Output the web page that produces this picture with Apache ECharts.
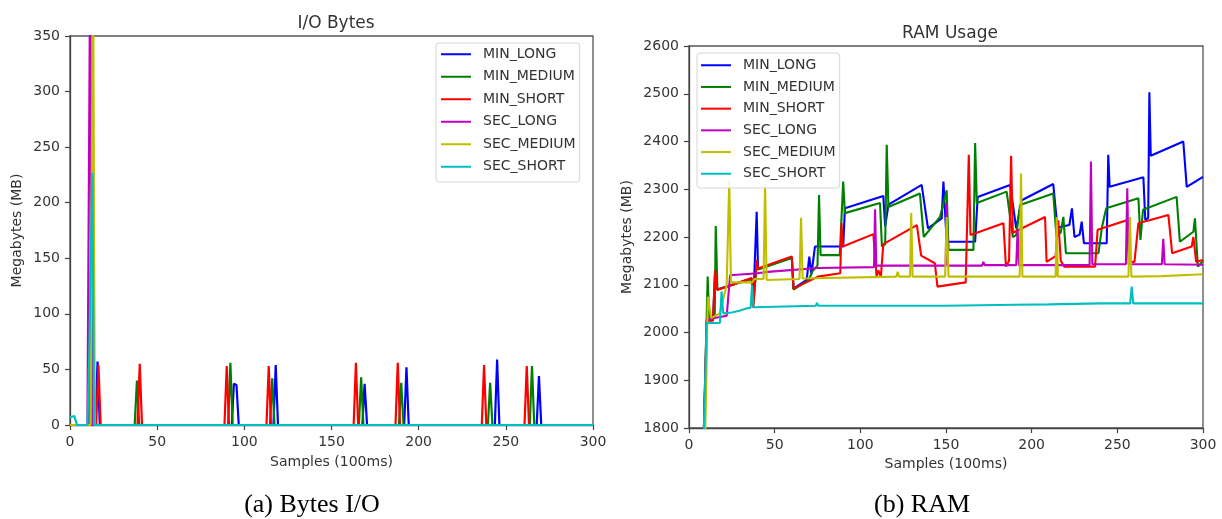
<!DOCTYPE html>
<html><head><meta charset="utf-8">
<script src="https://cdn.jsdelivr.net/npm/echarts@6/dist/echarts.min.js"></script>
<style>html,body{margin:0;padding:0;background:#fff}#c{width:1222px;height:519px}</style>
</head><body><div id="c"></div><script>
// ---- data ----
const seriesNames = ['MIN_LONG','MIN_MEDIUM','MIN_SHORT','SEC_LONG','SEC_MEDIUM','SEC_SHORT'];
const seriesColors = ['#0000ff','#008000','#ff0000','#bf00bf','#bfbf00','#00bfbf'];

// I/O Bytes: [sample, MB]
const ioMinLong = [[0,0],[14.5,0],[15.8,57],[17.1,0],[92.8,0],[94,37],[95.5,36],[96.8,0],[116.7,0],[118,54],[119.3,0],[167.7,0],[169,37],[170.4,0],[191.7,0],[193,52],[194.3,0],[243.7,0],[245,59],[246.3,0],[267.7,0],[269,44],[270.3,0],[300,0]];
const ioMinMedium = [[0,0],[10.8,0],[12.2,170],[13.3,0],[37.1,0],[38.4,40],[39.7,0],[90.7,0],[92,56],[93.3,0],[114.7,0],[116,42],[117.3,0],[165.7,0],[167,43],[168.3,0],[188.7,0],[190,38],[191.3,0],[239.7,0],[241,38],[242.3,0],[263.7,0],[265,53],[266.3,0],[300,0]];
const ioMinShort = [[0,0],[15,0],[16.3,54],[17.6,0],[38.7,0],[40,55],[41.3,0],[88.6,0],[89.9,53],[91.2,0],[112.7,0],[114,53],[115.3,0],[162.7,0],[164,56],[165.3,0],[186.7,0],[188,56],[189.3,0],[236.2,0],[237.5,54],[238.8,0],[260.7,0],[262,53],[263.3,0],[300,0]];
const ioSecLong = [[0,0],[10,0],[11.6,420],[12.8,0],[300,0]];
const ioSecMedium = [[0,0],[11.8,0],[13.2,420],[14.2,0],[300,0]];
const ioSecShort = [[0,7],[1,8],[2.5,8],[4,0],[10,0],[11,60],[12.8,227],[13.8,0],[300,0]];

// RAM Usage: [sample, MB]
const ramMinLong = [[8,1700],[10.5,2025],[14,2025],[15.2,2125],[16.5,2090],[36.6,2113],[37.5,2060],[38.5,2060],[39.5,2253],[40.3,2133],[60,2157],[61,2092],[68.7,2110],[70.2,2159],[71.5,2122],[73.5,2180],[90,2180],[91,2260],[113.4,2286],[114.5,2222],[116.4,2268],[135.8,2309],[139.5,2218],[147.5,2239],[148.5,2316],[150.4,2190],[167,2190],[168.5,2284],[187.4,2309],[191,2218],[194.2,2277],[212.6,2311],[215,2220],[222,2225],[223.5,2260],[225,2200],[228,2205],[229.2,2232],[230.5,2187],[243.8,2187],[244.7,2372],[245.5,2305],[265.2,2325],[266.3,2236],[268,2240],[268.7,2503],[269.5,2370],[288.5,2400],[290.5,2305],[300,2326]];
const ramMinMedium = [[8,1700],[10.3,2030],[10.9,2117],[11.8,2030],[15,2030],[15.6,2223],[16.6,2090],[36.6,2112],[37.5,2058],[38.5,2058],[39.5,2140],[40.3,2132],[60,2156],[61,2090],[70,2110],[72,2128],[75,2140],[75.9,2288],[76.8,2162],[88,2162],[90,2316],[91,2250],[111.5,2271],[112.6,2180],[114.5,2185],[115.4,2393],[116.4,2263],[134.8,2291],[137,2200],[146.5,2242],[150.4,2298],[151.5,2173],[166,2173],[167,2397],[168,2271],[185.4,2295],[189,2200],[191,2204],[193.2,2267],[212.6,2291],[214.5,2200],[217,2210],[218.5,2242],[220,2166],[239,2166],[241,2220],[243.5,2260],[262.3,2281],[263.5,2194],[265,2257],[284.6,2284],[286.5,2190],[294.4,2211],[295.3,2239],[297,2138],[300,2150]];
const ramMinShort = [[8,1700],[10.3,2025],[14,2025],[15.2,2130],[16.5,2089],[36.6,2114],[37.5,2052],[38.5,2052],[39.5,2152],[40.3,2134],[60,2159],[61,2092],[75.3,2117],[88.3,2124],[89,2229],[89.8,2180],[107.6,2206],[109.5,2117],[110.5,2130],[112,2117],[113.4,2185],[133,2225],[135.5,2161],[143.5,2145],[145,2096],[161.5,2105],[163.3,2372],[164.3,2204],[183.5,2229],[185,2138],[186.8,2150],[188,2370],[189,2209],[207.8,2242],[208.7,2148],[214,2160],[215.5,2235],[217,2150],[219,2138],[237,2138],[238.5,2215],[255.5,2235],[257.5,2148],[260,2148],[262.3,2229],[279.8,2246],[282,2166],[293.4,2180],[294.4,2200],[296,2148],[300,2152]];
const ramSecLong = [[8,1700],[10.5,2028],[14,2030],[22,2035],[24,2120],[40,2124],[46,2127],[75,2135],[108,2137],[108.6,2258],[109.3,2140],[149.8,2140],[150.4,2270],[151,2140],[171,2140],[171.8,2148],[172.6,2141],[191,2141],[191.8,2215],[192.6,2141],[233.8,2141],[234.6,2358],[235.4,2143],[255,2143],[255.8,2302],[256.6,2143],[276,2143],[276.8,2196],[277.6,2143],[300,2142]];
const ramSecMedium = [[9,1700],[11,2075],[13,2030],[18,2040],[22,2100],[23.5,2319],[24.5,2105],[37,2105],[38,2112],[43.5,2112],[44.4,2310],[45.3,2110],[64.5,2112],[65.4,2240],[66.3,2113],[121,2117],[121.8,2127],[122.6,2117],[129,2117],[129.7,2250],[130.5,2117],[149.5,2117],[150.4,2242],[151.5,2117],[193,2117],[193.8,2333],[194.6,2117],[214,2117],[214.6,2242],[215.3,2117],[256.5,2117],[257.4,2242],[258.2,2117],[276,2118],[277,2122],[300,2122]];
const ramSecShort = [[8,1700],[10.3,2020],[18,2020],[19,2086],[20,2040],[25,2042],[30,2046],[33,2050],[36,2052],[36.8,2100],[37.6,2053],[50,2054],[74,2056],[74.7,2062],[75.5,2056],[150,2056],[190,2058],[210,2059],[240,2061],[257.5,2061],[258.4,2096],[259.3,2061],[300,2061]];

const ioData = [ioMinLong, ioMinMedium, ioMinShort, ioSecLong, ioSecMedium, ioSecShort];
const ramData = [ramMinLong, ramMinMedium, ramMinShort, ramSecLong, ramSecMedium, ramSecShort];

// ---- chart ----
const FONT = 'DejaVu Sans';
const chart = echarts.init(document.getElementById('c'));
const axisCommon = {
  axisLine: {show: true, onZero: false, lineStyle: {color: '#444', width: 1.3}},
  axisTick: {show: true, inside: false, length: 5, lineStyle: {color: '#444', width: 1.2}},
  axisLabel: {color: '#333', fontFamily: FONT, fontSize: 14, margin: 10, formatter: v => String(v)},
  splitLine: {show: false},
  nameTextStyle: {color: '#333', fontFamily: FONT, fontSize: 14}
};
function xAx(idx, gap) {
  return Object.assign({}, axisCommon, {type: 'value', gridIndex: idx, min: 0, max: 300, interval: 50,
    name: 'Samples (100ms)', nameLocation: 'middle', nameGap: gap});
}
function yAx(idx, min, max, interval, gap) {
  return Object.assign({}, axisCommon, {type: 'value', gridIndex: idx, min: min, max: max, interval: interval,
    name: 'Megabytes (MB)', nameLocation: 'middle', nameGap: gap});
}
const series = [];
seriesNames.forEach((n, i) => {
  series.push({name: n, type: 'line', xAxisIndex: 0, yAxisIndex: 0, data: ioData[i], showSymbol: false, symbol: 'none',
    lineStyle: {color: seriesColors[i], width: 2.2}, itemStyle: {color: seriesColors[i]}, clip: true, animation: false});
});
seriesNames.forEach((n, i) => {
  series.push({name: n, type: 'line', xAxisIndex: 1, yAxisIndex: 1, data: ramData[i], showSymbol: false, symbol: 'none',
    lineStyle: {color: seriesColors[i], width: 2.1}, itemStyle: {color: seriesColors[i]}, clip: true, animation: false});
});
function legend(left, top, gap, pad) {
  return {left: left, top: top, orient: 'vertical', data: seriesNames, icon: 'rect', itemWidth: 30, itemHeight: 2,
    itemGap: gap, padding: pad, backgroundColor: 'rgba(255,255,255,0.85)', borderColor: '#d6d6d6', borderWidth: 1,
    borderRadius: 3, selectedMode: false,
    textStyle: {color: '#333', fontFamily: FONT, fontSize: 14, lineHeight: 14.5, padding: [0, 0, 0, 7]}};
}
chart.setOption({
  animation: false,
  backgroundColor: '#fff',
  title: [
    {text: 'I/O Bytes', left: 331, top: 10, textAlign: 'center', textStyle: {fontFamily: FONT, fontSize: 17, fontWeight: 'normal', color: '#333'}},
    {text: 'RAM Usage', left: 945, top: 20, textAlign: 'center', textStyle: {fontFamily: FONT, fontSize: 17, fontWeight: 'normal', color: '#333'}},
    {text: '(a) Bytes I/O', left: 307, top: 487, textAlign: 'center', textStyle: {fontFamily: 'Liberation Serif', fontSize: 26, fontWeight: 'normal', color: '#000'}},
    {text: '(b) RAM', left: 917, top: 487, textAlign: 'center', textStyle: {fontFamily: 'Liberation Serif', fontSize: 26, fontWeight: 'normal', color: '#000'}}
  ],
  grid: [
    {left: 70, top: 36, width: 523, height: 389, show: true, borderColor: '#555', borderWidth: 1.3, backgroundColor: 'transparent'},
    {left: 689, top: 46, width: 514, height: 382, show: true, borderColor: '#555', borderWidth: 1.3, backgroundColor: 'transparent'}
  ],
  xAxis: [xAx(0, 30), xAx(1, 29)],
  yAxis: [yAx(0, 0, 350, 50, 46), yAx(1, 1800, 2600, 100, 55)],
  legend: [legend(436, 43, 8, [4, 4, 8, 5]), legend(697, 53, 7.2, [5, 4, 7, 4])],
  series: series
});
</script></body></html>
